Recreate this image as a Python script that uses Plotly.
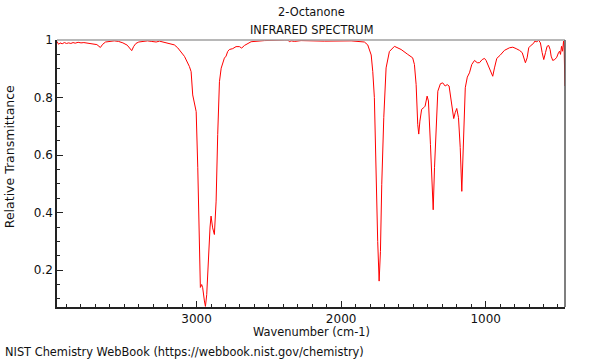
import plotly.graph_objects as go

# Wavenumber (cm-1) and relative transmittance
wavenumber = [
    3966, 3955, 3945, 3930, 3915, 3900, 3885, 3870, 3855, 3840, 3820, 3800, 3780, 3760,
    3740, 3720, 3700, 3690, 3666, 3650, 3630, 3600, 3570, 3540, 3510, 3480, 3465, 3449,
    3435, 3420, 3400, 3370, 3340, 3310, 3280, 3257, 3202, 3188, 3154, 3131, 3084, 3050,
    3038, 3027, 3015, 3003, 2992, 2981, 2974, 2965, 2958, 2946, 2939, 2930, 2916, 2907,
    2900, 2889, 2877, 2865, 2854, 2842, 2830, 2808, 2796, 2785, 2773, 2750, 2727, 2704,
    2688, 2669, 2623, 2531, 2392, 2370, 2358, 2346, 2323, 2277, 2116, 2024, 1931, 1839,
    1816, 1792, 1781, 1770, 1758, 1747, 1737, 1728, 1719, 1705, 1689, 1666, 1631, 1585,
    1539, 1505, 1493, 1481, 1470, 1463, 1455, 1443, 1428, 1419, 1405, 1396, 1382, 1372,
    1363, 1354, 1342, 1331, 1313, 1297, 1280, 1266, 1253, 1239, 1228, 1221, 1211, 1200,
    1188, 1176, 1165, 1153, 1141, 1127, 1112, 1096, 1077, 1058, 1043, 1024, 1008, 997,
    979, 962, 951, 939, 923, 900, 870, 835, 812, 789, 766, 747, 736, 725,
    713, 702, 685, 669, 660, 646, 633, 621, 609, 598, 586, 575, 564, 554,
    547, 536, 522, 508, 496, 489, 482, 475, 468, 461, 457, 451.5,
]
transmittance = [
    0.995, 0.985, 0.990, 0.987, 0.991, 0.988, 0.990, 0.988, 0.991, 0.989, 0.992, 0.990, 0.991, 0.990,
    0.989, 0.987, 0.985, 0.984, 0.974, 0.985, 0.993, 0.996, 0.997, 0.995, 0.990, 0.982, 0.972, 0.963,
    0.978, 0.988, 0.993, 0.996, 0.997, 0.995, 0.993, 0.996, 0.989, 0.986, 0.983, 0.973, 0.943, 0.908,
    0.890, 0.809, 0.775, 0.751, 0.556, 0.324, 0.140, 0.150, 0.139, 0.093, 0.074, 0.115, 0.278, 0.350,
    0.388, 0.347, 0.324, 0.440, 0.672, 0.855, 0.902, 0.937, 0.944, 0.960, 0.967, 0.970, 0.977, 0.977,
    0.972, 0.981, 0.994, 0.998, 1.000, 1.000, 0.994, 0.997, 0.995, 0.998, 0.996, 0.997, 0.997, 0.993,
    0.983, 0.948, 0.890, 0.800, 0.497, 0.300, 0.162, 0.265, 0.497, 0.730, 0.903, 0.960, 0.978, 0.967,
    0.950, 0.938, 0.915, 0.845, 0.707, 0.673, 0.718, 0.759, 0.765, 0.770, 0.805, 0.788, 0.637, 0.510,
    0.410, 0.556, 0.718, 0.822, 0.848, 0.851, 0.840, 0.845, 0.840, 0.788, 0.741, 0.727, 0.747, 0.762,
    0.730, 0.626, 0.474, 0.637, 0.834, 0.871, 0.886, 0.915, 0.929, 0.921, 0.921, 0.932, 0.936, 0.929,
    0.909, 0.886, 0.874, 0.903, 0.936, 0.947, 0.964, 0.973, 0.975, 0.970, 0.964, 0.956, 0.938, 0.921,
    0.938, 0.973, 0.982, 0.988, 0.996, 0.994, 0.999, 0.990, 0.956, 0.932, 0.956, 0.978, 0.981, 0.967,
    0.944, 0.929, 0.932, 0.940, 0.956, 0.961, 0.950, 0.978, 0.961, 0.996, 0.973, 0.840,
]

x_range = [3966, 451]
y_range = [0.072, 1.0]
x_ticks = [3000, 2000, 1000]
y_ticks = [0.2, 0.4, 0.6, 0.8, 1.0]
y_tick_labels = ["0.2", "0.4", "0.6", "0.8", "1"]

FONT = "DejaVu Sans"
TXT = 11.4

fig = go.Figure()
fig.add_trace(go.Scatter(
    x=wavenumber, y=transmittance, mode="lines",
    line=dict(color="rgb(255,0,0)", width=1), showlegend=False, hoverinfo="skip",
))

fig.update_layout(
    width=600, height=360,
    margin=dict(l=57, r=34.5, t=40, b=53),
    paper_bgcolor="white", plot_bgcolor="white",
    font=dict(family=FONT, size=12, color="#222"),
    xaxis=dict(
        range=x_range, tickvals=x_ticks, ticktext=[str(v) for v in x_ticks],
        ticks="inside", ticklen=6, tickwidth=1, tickcolor="#222",
        showline=True, linecolor="#222", linewidth=1.5, mirror=False,
        showgrid=False, zeroline=False,
        minor=dict(dtick=100, tick0=0, ticks="inside", ticklen=3, tickcolor="#222", showgrid=False),
        tickfont=dict(family=FONT, size=12, color="#111"),
    ),
    yaxis=dict(
        range=y_range, tickvals=y_ticks, ticktext=y_tick_labels,
        ticks="inside", ticklen=6, tickwidth=1, tickcolor="#222",
        showline=True, linecolor="#222", linewidth=1.5, mirror=False,
        showgrid=False, zeroline=False,
        minor=dict(dtick=0.05, tick0=0, ticks="inside", ticklen=3, tickcolor="#222", showgrid=False),
        tickfont=dict(family=FONT, size=12, color="#111"),
    ),
    shapes=[
        dict(type="line", xref="paper", yref="paper", x0=0, x1=1, y0=1, y1=1,
             line=dict(color="#a0a0a0", width=1.5)),
        dict(type="line", xref="paper", yref="paper", x0=1, x1=1, y0=0, y1=1,
             line=dict(color="#555555", width=1.5)),
    ],
    annotations=[
        dict(text="2-Octanone", xref="paper", yref="paper", x=0.5, y=1.105,
             xanchor="center", yanchor="middle", showarrow=False, font=dict(size=TXT, color="#111")),
        dict(text="INFRARED SPECTRUM", xref="paper", yref="paper", x=0.5, y=1.037,
             xanchor="center", yanchor="middle", showarrow=False, font=dict(size=TXT, color="#111")),
        dict(text="Wavenumber (cm-1)", xref="paper", yref="paper", x=0.5, y=-0.094,
             xanchor="center", yanchor="middle", showarrow=False, font=dict(size=TXT, color="#111")),
        dict(text="Relative Transmittance", xref="paper", yref="paper", x=-0.092, y=0.562,
             xanchor="center", yanchor="middle", textangle=-90, showarrow=False,
             font=dict(size=12.5, color="#111")),
        dict(text="NIST Chemistry WebBook (https://webbook.nist.gov/chemistry)", xref="paper", yref="paper",
             x=-0.106, y=-0.169, xanchor="left", yanchor="middle", showarrow=False,
             font=dict(size=TXT, color="#111")),
    ],
)

fig.write_html("out.html", config={"displayModeBar": False},
               post_script="document.body.style.margin='0';")
